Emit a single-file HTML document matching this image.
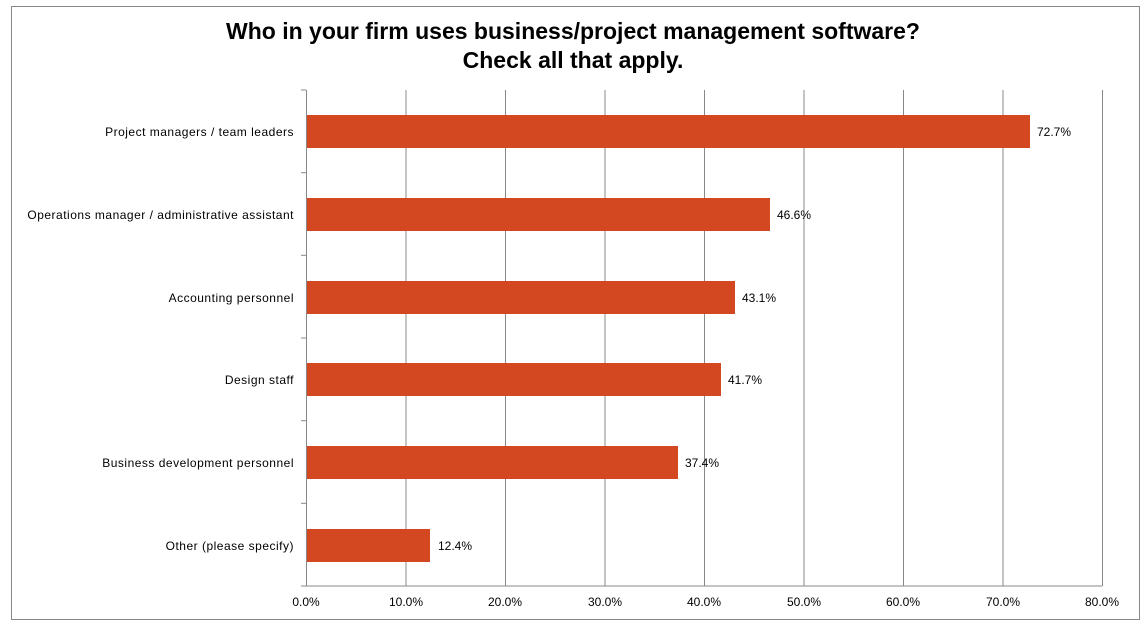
<!DOCTYPE html><html><head><style>body{margin:0;background:#fff}</style></head><body>
<svg width="1147" height="626" xmlns="http://www.w3.org/2000/svg" font-family="Liberation Sans, sans-serif">
<rect x="11.5" y="6.5" width="1128" height="613" fill="#fff" stroke="#888" stroke-width="1"/>
<text x="573" y="39" text-anchor="middle" font-size="23" font-weight="bold">Who in your firm uses business/project management software?</text>
<text x="573" y="68" text-anchor="middle" font-size="23" font-weight="bold">Check all that apply.</text>
<g stroke="#888" stroke-width="1">
<line x1="406" y1="90" x2="406" y2="586"/><line x1="505.5" y1="90" x2="505.5" y2="586"/>
<line x1="605" y1="90" x2="605" y2="586"/><line x1="704.5" y1="90" x2="704.5" y2="586"/>
<line x1="804" y1="90" x2="804" y2="586"/><line x1="903.5" y1="90" x2="903.5" y2="586"/>
<line x1="1003" y1="90" x2="1003" y2="586"/><line x1="1102.5" y1="90" x2="1102.5" y2="586"/>
<line x1="306.5" y1="90" x2="306.5" y2="586"/>
<line x1="301" y1="90" x2="306" y2="90"/><line x1="301" y1="172.7" x2="306" y2="172.7"/>
<line x1="301" y1="255.3" x2="306" y2="255.3"/><line x1="301" y1="338" x2="306" y2="338"/>
<line x1="301" y1="420.7" x2="306" y2="420.7"/><line x1="301" y1="503.3" x2="306" y2="503.3"/>
<line x1="301" y1="586" x2="1102" y2="586"/>
</g>
<g fill="#D34820">
<rect x="307" y="115" width="723" height="33"/>
<rect x="307" y="198" width="463" height="33"/>
<rect x="307" y="281" width="428" height="33"/>
<rect x="307" y="363" width="414" height="33"/>
<rect x="307" y="446" width="371" height="33"/>
<rect x="307" y="529" width="123" height="33"/>
</g>
<g font-size="12" fill="#000">
<g text-anchor="end" letter-spacing="0.5">
<text x="294" y="136">Project managers / team leaders</text>
<text x="294" y="219">Operations manager / administrative assistant</text>
<text x="294" y="302">Accounting personnel</text>
<text x="294" y="384">Design staff</text>
<text x="294" y="467">Business development personnel</text>
<text x="294" y="550">Other (please specify)</text>
</g>
<text x="1037" y="136">72.7%</text>
<text x="777" y="219">46.6%</text>
<text x="742" y="302">43.1%</text>
<text x="728" y="384">41.7%</text>
<text x="685" y="467">37.4%</text>
<text x="438" y="550">12.4%</text>
<g text-anchor="middle">
<text x="306" y="606">0.0%</text><text x="406" y="606">10.0%</text><text x="505" y="606">20.0%</text>
<text x="605" y="606">30.0%</text><text x="704" y="606">40.0%</text><text x="804" y="606">50.0%</text>
<text x="903" y="606">60.0%</text><text x="1003" y="606">70.0%</text><text x="1102" y="606">80.0%</text>
</g>
</g>
</svg>
</body></html>
